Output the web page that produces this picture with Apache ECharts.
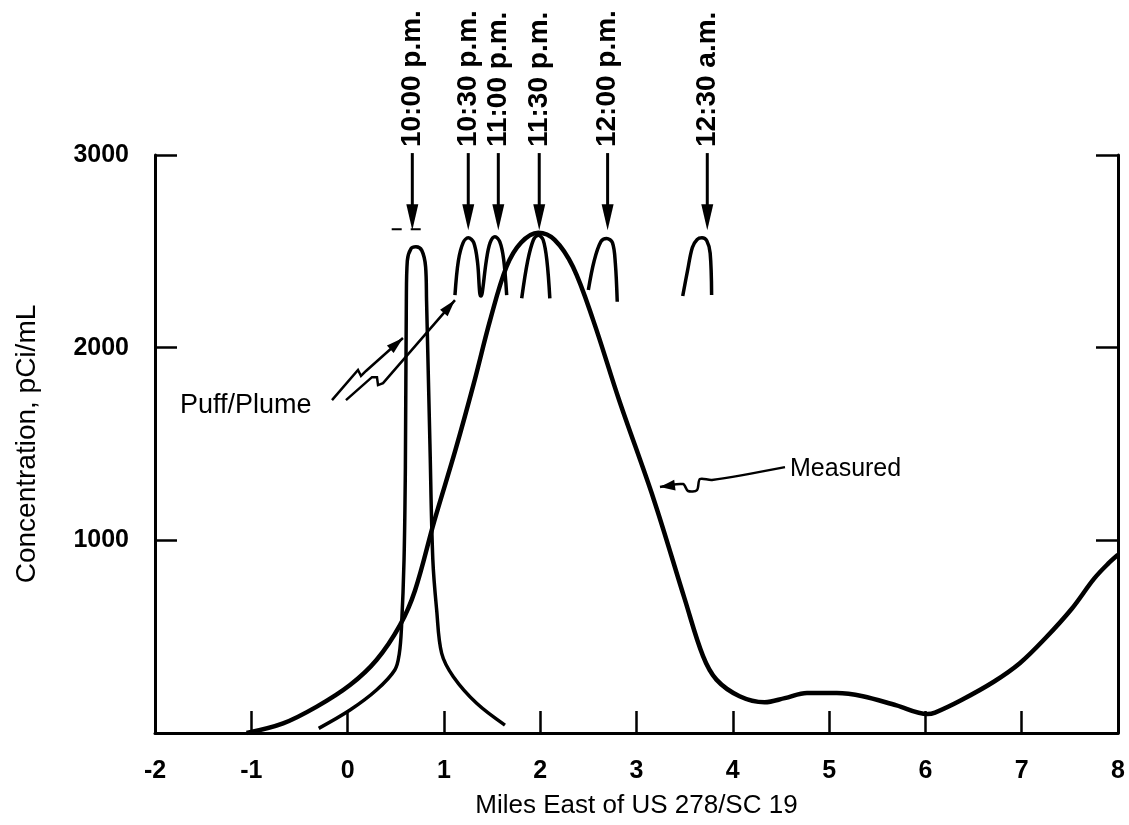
<!DOCTYPE html>
<html lang="en">
<head>
<meta charset="UTF-8">
<title>Puff/Plume vs Measured</title>
<script src="https://cdn.jsdelivr.net/npm/echarts@6/dist/echarts.min.js"></script>
<style>body{margin:0;background:#fff;}</style>
</head>
<body>
<div id="main" style="width:1129px;height:825px;"></div>
<script>
// data: [miles, pCi/mL]
var measured = [[-1.05,0],[-0.67,50],[-0.32,137],[0.025,249],[0.3,379],[0.544,560],[0.7,740],[0.9,1100],
  [1.12,1469],[1.31,1813],[1.48,2143],[1.65,2420],[1.8,2545],[1.98,2597],[2.15,2560],[2.34,2420],[2.55,2143],
  [2.82,1727],[3.18,1211],[3.5,696],[3.69,400],[3.83,277],[4.07,191],[4.33,160],[4.54,181],[4.77,208],[5.08,208],
  [5.35,191],[5.7,143],[6.02,98],[6.1,106],[6.37,170],[6.71,266],[6.98,362],[7.24,489],[7.52,645],[7.75,800],[7.9,880],[8,925]];
var puff1000 = [[-0.3,24],[0.025,119],[0.3,223],[0.49,327],[0.537,413],[0.56,552],[0.586,898],[0.6,1383],[0.61,2242],[0.62,2450],
  [0.66,2515],[0.71,2524],[0.77,2505],[0.81,2420],[0.82,2242],[0.855,1500],[0.885,900],[0.925,638],[0.977,413],
  [1.098,292],[1.34,154],[1.634,41]];
var puff1030 = [[1.115,2273],[1.15,2450],[1.2,2545],[1.253,2570],[1.31,2545],[1.35,2440],[1.372,2285],[1.385,2268],
  [1.398,2285],[1.44,2450],[1.48,2545],[1.53,2576],[1.58,2550],[1.62,2460],[1.652,2273]];
var puff1130 = [[1.808,2256],[1.87,2450],[1.93,2560],[1.98,2584],[2.03,2560],[2.07,2450],[2.1,2256]];
var puff1200 = [[2.5,2299],[2.56,2450],[2.63,2550],[2.69,2567],[2.75,2545],[2.78,2440],[2.8,2238]];
var puff1230 = [[3.48,2268],[3.53,2400],[3.58,2520],[3.63,2562],[3.68,2570],[3.73,2555],[3.765,2490],[3.78,2273]];

// time arrows above the puffs
var arrowTimes = ['10:00 p.m.', '10:30 p.m.', '11:00 p.m.', '11:30 p.m.', '12:00 p.m.', '12:30 a.m.'];
var arrowX = [0.672, 1.253, 1.565, 1.99, 2.70, 3.735];
var arrowTop = 3010, arrowTip = 2610;

// leader lines for the two labels
var puffLeader1 = [[-0.162,1728],[0.108,1884],[0.139,1853],[0.191,1879],[0.575,2050]];
var puffLeader2 = [[-0.017,1728],[0.253,1847],[0.305,1847],[0.316,1806],[0.368,1816],[1.115,2247]];
var measuredLeader = [[4.542,1380],[3.784,1313],[3.659,1318],[3.628,1261],[3.535,1256],[3.483,1292],[3.244,1277]];
var puffLabelAt = [-1.74, 1697];
var measuredLabelAt = [4.594, 1372];

var font = "'Liberation Sans', Arial, Helvetica, sans-serif";
var myChart = echarts.init(document.getElementById('main'));

function curve(data, w) {
    return {
        type: 'line', data: data, smooth: 0.35, symbol: 'none', silent: true,
        lineStyle: { color: '#000', width: w }
    };
}

var axisCommon = {
    axisLine: { show: true, onZero: false, lineStyle: { color: '#000', width: 3 } },
    axisTick: { show: true, inside: true, length: 22, lineStyle: { color: '#000', width: 2.5 } },
    splitLine: { show: false }
};

var option = {
    animation: false,
    backgroundColor: '#fff',
    grid: { left: 155, right: 11, top: 155, bottom: 92 },
    xAxis: Object.assign({
        type: 'value', min: -2, max: 8, interval: 1,
        axisLabel: { color: '#000', fontSize: 25, fontWeight: 'bold', fontFamily: font, margin: 26 },
        name: 'Miles East of US 278/SC 19', nameLocation: 'middle', nameGap: 60,
        nameTextStyle: { color: '#000', fontSize: 26, fontFamily: font }
    }, axisCommon),
    yAxis: [
        Object.assign({
            type: 'value', min: 0, max: 3000, interval: 1000,
            axisLabel: {
                color: '#000', fontSize: 25, fontWeight: 'bold', fontFamily: font, margin: 26,
                formatter: function (v) { return v === 0 ? '' : v; }
            },
            name: 'Concentration, pCi/mL', nameLocation: 'middle', nameGap: 114,
            nameTextStyle: { color: '#000', fontSize: 28, fontFamily: font }
        }, axisCommon),
        Object.assign({
            type: 'value', min: 0, max: 3000, interval: 1000, position: 'right',
            axisLabel: { show: false }
        }, axisCommon)
    ],
    series: [
        curve(measured, 4.5),
        curve(puff1000, 3.5),
        curve(puff1030, 3.5),
        curve(puff1130, 3.5),
        curve(puff1200, 3.5),
        curve(puff1230, 3.5)
    ]
};
myChart.setOption(option);

// annotations placed through the chart's own scales
function px(p) { return myChart.convertToPixel({ xAxisIndex: 0, yAxisIndex: 0 }, p); }

function head(tip, from, len, wid) {
    var dx = tip[0] - from[0], dy = tip[1] - from[1];
    var d = Math.sqrt(dx * dx + dy * dy);
    dx /= d; dy /= d;
    var bx = tip[0] - dx * len, by = tip[1] - dy * len;
    return {
        type: 'polygon', silent: true,
        shape: { points: [tip, [bx - dy * wid / 2, by + dx * wid / 2], [bx + dy * wid / 2, by - dx * wid / 2]] },
        style: { fill: '#000' }
    };
}

function leader(pts, len, wid, smooth) {
    var p = pts.map(px);
    return [
        { type: 'polyline', silent: true, shape: { points: p, smooth: smooth || 0 },
          style: { stroke: '#000', lineWidth: 2.5, fill: null } },
        head(p[p.length - 1], p[p.length - 2], len, wid)
    ];
}

var els = [];
arrowX.forEach(function (x, i) {
    var top = px([x, arrowTop]), tip = px([x, arrowTip]);
    els.push({ type: 'line', silent: true, shape: { x1: top[0], y1: top[1], x2: tip[0], y2: tip[1] - 10 },
        style: { stroke: '#000', lineWidth: 3 } });
    els.push(head(tip, top, 26, 12));
    els.push({ type: 'text', silent: true, x: top[0], y: top[1] - 6, rotation: Math.PI / 2,
        style: { text: arrowTimes[i], font: 'bold 28px ' + font, fill: '#000', align: 'left', verticalAlign: 'middle' } });
});

var d1 = px([0.458, 2615]), d2 = px([0.838, 2615]);
els.push({ type: 'line', silent: true, shape: { x1: d1[0], y1: d1[1], x2: d2[0], y2: d2[1] },
    style: { stroke: '#000', lineWidth: 2, lineDash: [10, 9] } });

els = els.concat(leader(puffLeader1, 17, 10), leader(puffLeader2, 17, 10), leader(measuredLeader, 15, 11, 0.3));

var pl = px(puffLabelAt), ml = px(measuredLabelAt);
els.push({ type: 'text', silent: true, x: pl[0], y: pl[1],
    style: { text: 'Puff/Plume', font: '27px ' + font, fill: '#000', align: 'left', verticalAlign: 'middle' } });
els.push({ type: 'text', silent: true, x: ml[0], y: ml[1],
    style: { text: 'Measured', font: '25px ' + font, fill: '#000', align: 'left', verticalAlign: 'middle' } });

myChart.setOption({ graphic: els });
</script>
</body>
</html>
